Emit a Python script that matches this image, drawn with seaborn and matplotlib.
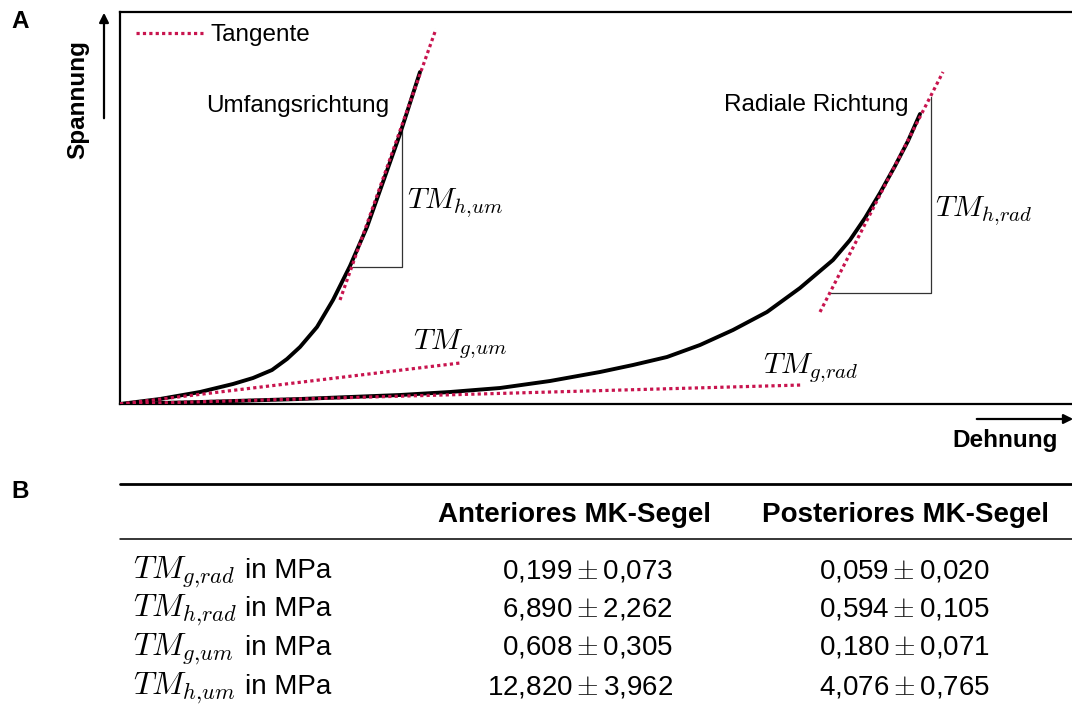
import numpy as np
import pandas as pd
import matplotlib
matplotlib.use('Agg')
import matplotlib.pyplot as plt
import seaborn as sns

# schematic stress-strain curves (arbitrary units)
um_strain = [0, 0.4, 0.8, 1.13, 1.33, 1.52, 1.67, 1.8, 1.97, 2.13, 2.3, 2.47, 2.63, 2.8, 3.0]
um_stress = [0, 0.05, 0.12, 0.2, 0.26, 0.34, 0.45, 0.57, 0.77, 1.04, 1.38, 1.77, 2.22, 2.7, 3.32]
rad_strain = [0, 0.8, 1.8, 2.8, 3.3, 3.8, 4.3, 4.8, 5.13, 5.47, 5.8, 6.13, 6.47,
              6.8, 7.13, 7.3, 7.45, 7.6, 7.75, 7.88, 8.0]
rad_stress = [0, 0.02, 0.05, 0.09, 0.12, 0.16, 0.23, 0.32, 0.39, 0.47, 0.59, 0.74, 0.92,
              1.16, 1.44, 1.64, 1.86, 2.11, 2.38, 2.63, 2.9]

# tangents (start/end)
tan_g_um_x, tan_g_um_y = [0, 3.4], [0, 0.41]
tan_h_um_x, tan_h_um_y = [2.2, 3.16], [1.04, 3.75]
tan_g_rad_x, tan_g_rad_y = [0, 6.82], [0, 0.19]
tan_h_rad_x, tan_h_rad_y = [7.0, 8.23], [0.92, 3.32]

# slope triangles
tri_um_x, tri_um_y = [2.32, 2.82, 2.82], [1.37, 1.37, 2.74]
tri_rad_x, tri_rad_y = [7.1, 8.11, 8.11], [1.11, 1.11, 3.07]

# table B
row_labels = ['$TM_{g{,}rad}$', '$TM_{h{,}rad}$', '$TM_{g{,}um}$', '$TM_{h{,}um}$']
ant_mean = [0.199, 6.890, 0.608, 12.820]
ant_sd = [0.073, 2.262, 0.305, 3.962]
post_mean = [0.059, 0.594, 0.180, 4.076]
post_sd = [0.020, 0.105, 0.071, 0.765]
col_labels = ['Anteriores MK-Segel', 'Posteriores MK-Segel']

sns.set_theme(style='white')
plt.rcParams['font.family'] = ['Liberation Sans', 'DejaVu Sans']
plt.rcParams['mathtext.fontset'] = 'cm'
plt.rcParams['text.color'] = 'black'

red = '#C8144E'
fs_a = 17.5
fs_am = 21.5
fs_b = 20
fs_bm = 23

fig = plt.figure(figsize=(10.72, 7.08), dpi=100)
W, H = 1072, 708
ax = fig.add_axes([120 / W, 1 - 404 / H, 960 / W, 392 / H])

sns.lineplot(x=um_strain, y=um_stress, ax=ax, color='black', lw=2.8, sort=False,
             estimator=None, zorder=2, solid_joinstyle='round')
sns.lineplot(x=rad_strain, y=rad_stress, ax=ax, color='black', lw=2.8, sort=False,
             estimator=None, zorder=2, solid_joinstyle='round')

dot = (0, (1, 1))
for tx, ty in [(tan_g_um_x, tan_g_um_y), (tan_h_um_x, tan_h_um_y),
               (tan_g_rad_x, tan_g_rad_y), (tan_h_rad_x, tan_h_rad_y)]:
    sns.lineplot(x=tx, y=ty, ax=ax, color=red, lw=2.3, linestyle=dot, sort=False,
                 estimator=None, zorder=3)

for tx, ty in [(tri_um_x, tri_um_y), (tri_rad_x, tri_rad_y)]:
    sns.lineplot(x=tx, y=ty, ax=ax, color='#333333', lw=0.9, sort=False,
                 estimator=None, zorder=1)

ax.set_xlim(0, 9.6)
ax.set_ylim(0, 3.92)
ax.set_xticks([])
ax.set_yticks([])
ax.set_xlabel('')
ax.set_ylabel('')
for s in ['left', 'bottom', 'top']:
    ax.spines[s].set_visible(True)
    ax.spines[s].set_color('black')
    ax.spines[s].set_linewidth(1.6)
ax.spines['right'].set_visible(False)

h = plt.Line2D([], [], color=red, lw=2.3, linestyle=dot)
ax.legend(handles=[h], labels=['Tangente'], loc='upper left', frameon=False,
          fontsize=fs_a, handlelength=2.75, handletextpad=0.3,
          bbox_to_anchor=(0.004, 1), borderaxespad=0.1)

ax.text(1.78, 2.98, 'Umfangsrichtung', fontsize=fs_a, ha='center', va='center')
ax.text(6.96, 2.99, 'Radiale Richtung', fontsize=fs_a, ha='center', va='center')
ax.text(2.87, 2.01, '$TM_{h{,}um}$', fontsize=fs_am, ha='left', va='center')
ax.text(8.15, 1.93, '$TM_{h{,}rad}$', fontsize=fs_am, ha='left', va='center')
ax.text(2.93, 0.6, '$TM_{g{,}um}$', fontsize=fs_am, ha='left', va='center')
ax.text(6.43, 0.36, '$TM_{g{,}rad}$', fontsize=fs_am, ha='left', va='center')

# overlay in pixel coordinates for arrows, panel letters and the table
ov = fig.add_axes([0, 0, 1, 1], zorder=5)
ov.set_xlim(0, W)
ov.set_ylim(H, 0)
ov.axis('off')
ov.patch.set_alpha(0)

ov.text(20, 22, 'A', fontsize=fs_a, fontweight='bold', ha='center', va='center')
ov.text(20, 492, 'B', fontsize=fs_a, fontweight='bold', ha='center', va='center')

ov.annotate('', xy=(104, 10), xytext=(104, 121), annotation_clip=False,
            arrowprops=dict(arrowstyle='-|>', color='black', lw=1.6, mutation_scale=14))
ov.text(78, 100, 'Spannung', fontsize=fs_a, fontweight='bold', rotation=90,
        ha='center', va='center')
ov.annotate('', xy=(1076, 419), xytext=(974, 419), annotation_clip=False,
            arrowprops=dict(arrowstyle='-|>', color='black', lw=1.6, mutation_scale=14))
ov.text(1005, 441, 'Dehnung', fontsize=fs_a, fontweight='bold', ha='center', va='center')

# table
ov.plot([120, W], [484, 484], color='black', lw=2.0)
ov.plot([120, W], [539, 539], color='black', lw=1.1)
ov.text(575, 522, col_labels[0], fontsize=fs_b, fontweight='bold', ha='center', va='baseline')
ov.text(906, 522, col_labels[1], fontsize=fs_b, fontweight='bold', ha='center', va='baseline')


def fmt(m, s):
    return (f'{m:.3f}'.replace('.', ',') + '$\\hspace{0}\\pm\\hspace{0}$'
            + f'{s:.3f}'.replace('.', ','))


row_y = [578, 616, 655, 694]
for lab, am, asd, pm, psd, y in zip(row_labels, ant_mean, ant_sd, post_mean, post_sd, row_y):
    ov.text(133, y, lab, fontsize=fs_bm, ha='left', va='baseline')
    ov.text(245, y, 'in MPa', fontsize=fs_b, ha='left', va='baseline')
    ov.text(673, y, fmt(am, asd), fontsize=fs_b, ha='right', va='baseline')
    ov.text(990, y, fmt(pm, psd), fontsize=fs_b, ha='right', va='baseline')

fig.savefig('out.png', dpi=100)
